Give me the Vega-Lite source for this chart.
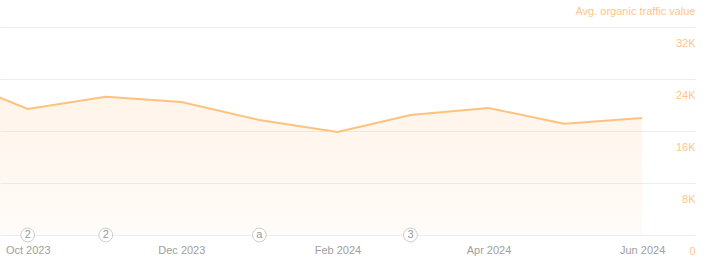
{
  "$schema": "https://vega.github.io/schema/vega-lite/v6.json",
  "width": 695,
  "height": 208,
  "autosize": "none",
  "padding": {"left": 0, "top": 27, "right": 12, "bottom": 35},
  "background": "white",
  "config": {
    "view": {"stroke": null},
    "font": "Liberation Sans"
  },
  "datasets": {
    "traffic": [
      {"date": "2023-09-01", "value": 24100},
      {"date": "2023-10-01", "value": 19400},
      {"date": "2023-11-01", "value": 21250},
      {"date": "2023-12-01", "value": 20450},
      {"date": "2024-01-01", "value": 17700},
      {"date": "2024-02-01", "value": 15850},
      {"date": "2024-03-01", "value": 18450},
      {"date": "2024-04-01", "value": 19550},
      {"date": "2024-05-01", "value": 17100},
      {"date": "2024-06-01", "value": 18000}
    ],
    "notes": [
      {"date": "2023-10-01", "value": 0, "label": "2"},
      {"date": "2023-11-01", "value": 0, "label": "2"},
      {"date": "2024-01-01", "value": 0, "label": "a"},
      {"date": "2024-03-01", "value": 0, "label": "3"}
    ]
  },
  "layer": [
    {
      "data": {"name": "traffic"},
      "mark": {
        "type": "area",
        "clip": true,
        "fill": {
          "gradient": "linear", "x1": 0, "y1": 0, "x2": 0, "y2": 1,
          "stops": [
            {"offset": 0, "color": "rgba(255,170,90,0.14)"},
            {"offset": 1, "color": "rgba(255,170,90,0.04)"}
          ]
        }
      },
      "encoding": {
        "x": {
          "field": "date", "type": "temporal",
          "scale": {"domain": [{"year": 2023, "month": 9, "date": 20}, {"year": 2024, "month": 6, "date": 22}]},
          "axis": {
            "values": [
              {"year": 2023, "month": 10, "date": 1},
              {"year": 2023, "month": 12, "date": 1},
              {"year": 2024, "month": 2, "date": 1},
              {"year": 2024, "month": 4, "date": 1},
              {"year": 2024, "month": 6, "date": 1}
            ],
            "format": "%b %Y",
            "title": null,
            "domain": false,
            "ticks": false,
            "grid": false,
            "labelColor": "#a0a0a0",
            "labelFontSize": 11,
            "labelPadding": 9,
            "labelFlush": false
          }
        },
        "y": {
          "field": "value", "type": "quantitative",
          "scale": {"domain": [0, 32000], "nice": false},
          "axis": {
            "orient": "right",
            "values": [0, 8000, 16000, 24000, 32000],
            "labelExpr": "datum.value == 0 ? '0' : (datum.value / 1000) + 'K'",
            "domain": false,
            "ticks": false,
            "grid": true,
            "gridColor": "#eeeeee",
            "gridWidth": 1,
            "labelAlign": "right",
            "labelBaseline": "middle",
            "labelPadding": 0,
            "labelOffset": 16,
            "labelColor": "#ffc58a",
            "labelFontSize": 11,
            "title": "Avg. organic traffic value",
            "titleAngle": 0,
            "titleAlign": "right",
            "titleBaseline": "middle",
            "titleX": 0,
            "titleY": -16,
            "titleColor": "#ffc58a",
            "titleFontSize": 11,
            "titleFontWeight": "normal"
          }
        }
      }
    },
    {
      "data": {"name": "traffic"},
      "mark": {"type": "line", "clip": true, "color": "#ffc27e", "strokeWidth": 2},
      "encoding": {
        "x": {"field": "date", "type": "temporal"},
        "y": {"field": "value", "type": "quantitative"}
      }
    },
    {
      "data": {"name": "notes"},
      "mark": {"type": "point", "shape": "circle", "filled": true, "fill": "white", "stroke": "#cccccc", "strokeWidth": 1, "size": 190, "opacity": 1},
      "encoding": {
        "x": {"field": "date", "type": "temporal"},
        "y": {"field": "value", "type": "quantitative"}
      }
    },
    {
      "data": {"name": "notes"},
      "mark": {"type": "text", "color": "#999999", "fontSize": 11, "baseline": "middle", "align": "center"},
      "encoding": {
        "x": {"field": "date", "type": "temporal"},
        "y": {"field": "value", "type": "quantitative"},
        "text": {"field": "label"}
      }
    }
  ]
}
